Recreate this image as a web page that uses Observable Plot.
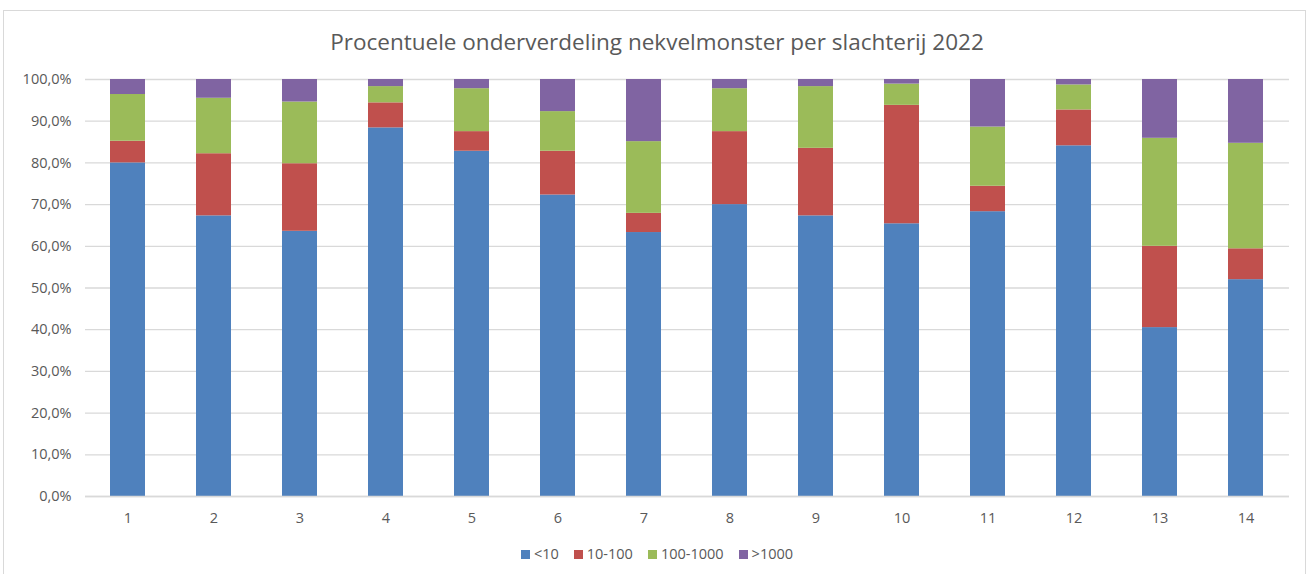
<!DOCTYPE html>
<html>
<head>
<meta charset="utf-8">
<script src="https://cdn.jsdelivr.net/npm/d3@7"></script>
<script src="https://cdn.jsdelivr.net/npm/@observablehq/plot@0.6"></script>
<style>
  html, body { margin: 0; padding: 0; background: #fff; }
  #wrap { position: relative; width: 1314px; height: 574px; overflow: hidden; font-family: "Open Sans", sans-serif; }
  #frame { position: absolute; left: 3px; top: 10px; width: 1303px; height: 600px; border: 1px solid #d9d9d9; box-sizing: border-box; }
  #title { position: absolute; left: 0; top: 26px; width: 1314px; text-align: center; font-size: 22.5px; color: #595959; }
  #chart { position: absolute; left: 0; top: 0; }
  #legend { position: absolute; left: 0; top: 544px; width: 1314px; display: flex; justify-content: center; gap: 15px; font-size: 14.5px; color: #595959; line-height: 20px; }
  #legend span.item { display: inline-flex; align-items: center; gap: 4px; }
  #legend span.sw { display: inline-block; width: 9px; height: 9px; }
</style>
</head>
<body>
<div id="wrap">
  <div id="frame"></div>
  <div id="chart"></div>
  <div id="title">Procentuele onderverdeling nekvelmonster per slachterij 2022</div>
  <div id="legend"></div>
</div>
<script>
const categories = ["1","2","3","4","5","6","7","8","9","10","11","12","13","14"];
const seriesNames = ["<10", "10-100", "100-1000", ">1000"];
const seriesColors = ["#4f81bd", "#c0504d", "#9bbb59", "#8064a2"];
const lt10      = [80.0, 67.3, 63.6, 88.4, 82.8, 72.3, 63.3, 70.0, 67.3, 65.4, 68.3, 84.1, 40.5, 52.0];
const s10_100   = [ 5.2, 14.9, 16.2,  6.0,  4.7, 10.5,  4.6, 17.5, 16.2, 28.4,  6.1,  8.6, 19.5,  7.4];
const s100_1000 = [11.2, 13.3, 14.8,  3.9, 10.3,  9.5, 17.2, 10.3, 14.8,  5.1, 14.2,  6.0, 25.9, 25.3];
const gt1000    = [ 3.6,  4.5,  5.4,  1.7,  2.2,  7.7, 14.9,  2.2,  1.7,  1.1, 11.4,  1.3, 14.1, 15.3];
const yTicks = [0, 10, 20, 30, 40, 50, 60, 70, 80, 90, 100];

const seriesValues = [lt10, s10_100, s100_1000, gt1000];
const data = [];
seriesNames.forEach((s, si) => {
  categories.forEach((c, ci) => data.push({cat: c, series: s, value: seriesValues[si][ci]}));
});

const fmt = d => d.toFixed(1).replace(".", ",") + "%";

const chart = Plot.plot({
  width: 1314,
  height: 574,
  marginTop: 79,
  marginBottom: 78,
  marginLeft: 85,
  marginRight: 25,
  style: {fontFamily: "'Open Sans', sans-serif", fontSize: "14.5px", color: "#595959", background: "transparent"},
  x: {domain: categories, paddingInner: 0.59, paddingOuter: 0.295, label: null, tickSize: 0, tickPadding: 16},
  y: {domain: [0, 100], ticks: yTicks, tickFormat: fmt, label: null, tickSize: 0, tickPadding: 14},
  color: {domain: seriesNames, range: seriesColors},
  marks: [
    Plot.gridY(yTicks, {stroke: "#d9d9d9", strokeOpacity: 1, strokeWidth: 1.3}),
    Plot.barY(data, {x: "cat", y: "value", fill: "series", order: seriesNames}),
    Plot.ruleY([0], {stroke: "#d9d9d9", strokeWidth: 1.3})
  ]
});
document.getElementById("chart").appendChild(chart);

const legend = document.getElementById("legend");
seriesNames.forEach((s, i) => {
  const item = document.createElement("span");
  item.className = "item";
  const sw = document.createElement("span");
  sw.className = "sw";
  sw.style.background = seriesColors[i];
  const t = document.createElement("span");
  t.textContent = s;
  item.appendChild(sw);
  item.appendChild(t);
  legend.appendChild(item);
});
</script>
</body>
</html>
